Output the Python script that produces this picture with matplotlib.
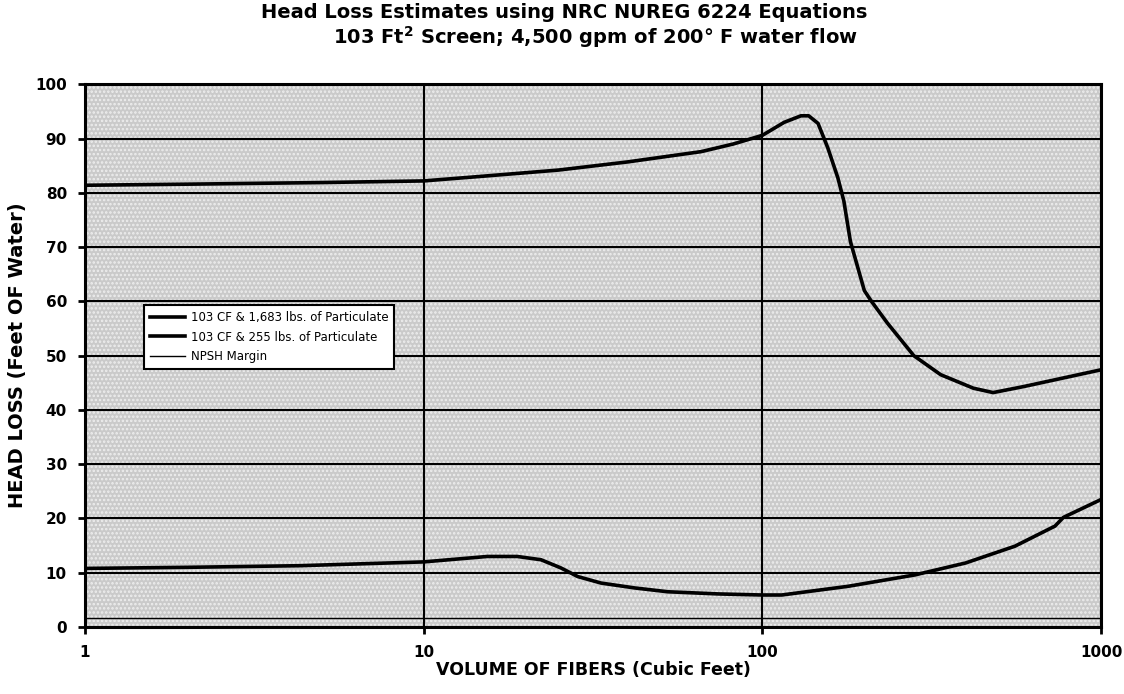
import matplotlib
matplotlib.use("Agg")
import matplotlib.pyplot as plt
from matplotlib.ticker import FixedLocator, NullLocator

# ---- data ----
x_high = [1, 2, 5, 10, 14.5, 25, 40, 66, 82, 100, 116, 130, 137, 146, 156, 167,
          174, 182, 200, 210, 234, 280, 336, 420, 480, 590, 1000]
y_high = [81.4, 81.6, 81.9, 82.2, 83.0, 84.2, 85.7, 87.6, 89.0, 90.6, 93.0, 94.2,
          94.2, 92.8, 88.3, 82.8, 78.5, 71.0, 62.0, 60.0, 56.0, 50.0, 46.5, 44.0,
          43.2, 44.3, 47.4]

x_low = [1, 2, 4.3, 10, 15.4, 18.9, 22.2, 25.4, 28.5, 33.4, 42, 52.5, 74, 100,
         114, 179, 282, 398, 557, 731, 774, 1000]
y_low = [10.8, 11.0, 11.3, 12.0, 13.0, 13.0, 12.4, 10.9, 9.3, 8.1, 7.2, 6.5, 6.1,
         5.9, 5.9, 7.5, 9.6, 11.8, 14.9, 18.6, 20.2, 23.5]

x_npsh = [1, 1000]
y_npsh = [1.7, 1.7]

labels = ["103 CF & 1,683 lbs. of Particulate",
          "103 CF & 255 lbs. of Particulate",
          "NPSH Margin"]
x_ticks = [1, 10, 100, 1000]
x_ticklabels = ["1", "10", "100", "1000"]
y_ticks = list(range(0, 101, 10))

title1 = "Head Loss Estimates using NRC NUREG 6224 Equations"
title2 = "103 Ft$^\\mathbf{2}$ Screen; 4,500 gpm of 200\u00b0 F water flow"
xlabel = "VOLUME OF FIBERS (Cubic Feet)"
ylabel = "HEAD LOSS (Feet OF Water)"

# ---- figure ----
plt.rcParams['font.family'] = ['DejaVu Sans']
plt.rcParams['mathtext.default'] = 'bf'
plt.rcParams['hatch.linewidth'] = 1.2
fig = plt.figure(figsize=(11.24, 6.94), dpi=100)
ax = fig.add_axes([0.0756, 0.0965, 0.904, 0.782])
ax.set_facecolor('#cacaca')
ax.patch.set_hatch('....')
ax.patch.set_edgecolor('#eeeeee')
ax.patch.set_linewidth(0)

ax.set_xscale('log')
ax.set_xlim(1, 1000)
ax.set_ylim(0, 100)

ax.plot(x_high, y_high, color='black', lw=2.6, label=labels[0], zorder=4)
ax.plot(x_low, y_low, color='black', lw=2.6, label=labels[1], zorder=4)
ax.plot(x_npsh, y_npsh, color='black', lw=1.0, label=labels[2], zorder=4)

ax.xaxis.set_major_locator(FixedLocator(x_ticks))
ax.xaxis.set_minor_locator(NullLocator())
ax.set_xticks(x_ticks)
ax.set_xticklabels(x_ticklabels)
ax.set_yticks(y_ticks)

ax.grid(True, which='major', color='black', lw=1.5, zorder=2)
ax.set_axisbelow(True)
for s in ax.spines.values():
    s.set_linewidth(2.2)
    s.set_color('black')
ax.tick_params(axis='both', length=5, width=2, labelsize=11, pad=8)
for lab in ax.get_xticklabels() + ax.get_yticklabels():
    lab.set_fontweight('bold')

ax.set_xlabel(xlabel, fontsize=12.5, fontweight='bold', labelpad=1)
ax.set_ylabel(ylabel, fontsize=14, fontweight='bold', labelpad=6)
fig.text(0.502, 0.982, title1, ha='center', va='center', fontsize=14, fontweight='bold')
fig.text(0.53, 0.947, title2, ha='center', va='center', fontsize=14, fontweight='bold')

leg = ax.legend(loc='upper left', bbox_to_anchor=(0.052, 0.604), fontsize=8.5,
                frameon=True, fancybox=False, framealpha=1, edgecolor='black',
                handlelength=3.0, borderpad=0.5, labelspacing=0.55, handletextpad=0.5)
leg.get_frame().set_linewidth(1.5)

fig.savefig('out.png', dpi=100, facecolor='white')
